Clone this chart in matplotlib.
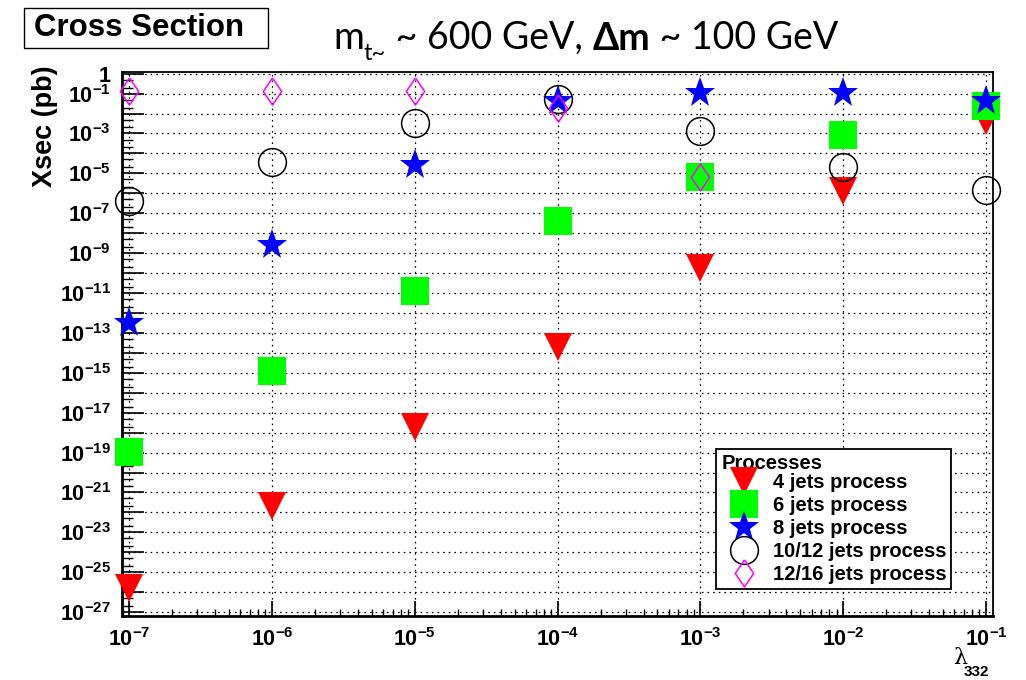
import matplotlib

matplotlib.use("Agg")
import matplotlib.pyplot as plt
from matplotlib.patches import Rectangle
from matplotlib.ticker import FixedLocator, FuncFormatter, LogLocator, NullFormatter
import numpy as np

# lambda_332 coupling values and cross sections (pb)
lam = [1e-7, 1e-6, 1e-5, 1e-4, 1e-3, 1e-2, 1e-1]
xsec_4j = [1.6e-26, 2e-22, 2e-18, 2e-14, 1.8e-10, 1.3e-6, 4e-3]
xsec_6j = [1.1e-19, 1.3e-15, 1.3e-11, 4e-8, 6.3e-6, 8e-4, 2.5e-2]
xsec_8j = [3.2e-13, 2.5e-9, 2.5e-5, 4.5e-2, 1.1e-1, 1.1e-1, 4.5e-2]
xsec_1012j = [4e-7, 3.7e-5, 3.5e-3, 5.6e-2, 1.4e-3, 2e-5, 1.4e-6]
lam_1216 = [1e-7, 1e-6, 1e-5, 1e-4, 1e-3]
xsec_1216j = [1.35e-1, 1.4e-1, 1.4e-1, 2e-2, 6.3e-6]

plt.rcParams["mathtext.fontset"] = "custom"
plt.rcParams["mathtext.rm"] = "Liberation Sans:bold"
plt.rcParams["mathtext.it"] = "Liberation Sans:bold"
plt.rcParams["mathtext.bf"] = "Liberation Sans:bold"
plt.rcParams["mathtext.sf"] = "Liberation Sans:bold"
plt.rcParams["font.family"] = ["Liberation Sans", "DejaVu Sans"]

fig = plt.figure(figsize=(10.26, 6.8), dpi=100)
ax = fig.add_axes([0.119, 0.094, 0.849, 0.800])

# ROOT style open diamond, narrower than it is tall
diamond = [(0, 1), (0.68, 0), (0, -1), (-0.68, 0), (0, 1)]

ax.plot(lam, xsec_4j, ls="none", marker="v", ms=20, color="#ff0000",
        mec="#ff0000", mew=0, label="4 jets process", zorder=3, clip_on=False)
ax.plot(lam, xsec_6j, ls="none", marker="s", ms=20, color="#00ff00",
        mec="#00ff00", mew=0, label="6 jets process", zorder=3, clip_on=False)
ax.plot(lam, xsec_8j, ls="none", marker="*", ms=23, color="#0000ff",
        mec="#0000ff", mew=0, label="8 jets process", zorder=3, clip_on=False)
ax.plot(lam, xsec_1012j, ls="none", marker="o", ms=20, mfc="none",
        mec="black", mew=1.1, label="10/12 jets process", zorder=3, clip_on=False)
ax.plot(lam_1216, xsec_1216j, ls="none", marker=diamond, ms=19.5, mfc="none",
        mec="#ff00ff", mew=1.1, label="12/16 jets process", zorder=3, clip_on=False)

ax.set_xscale("log")
ax.set_yscale("log")
ax.set_xlim(10 ** -7.05, 10 ** -0.95)
ax.set_ylim(10 ** -27.2, 10 ** 0.08)

ax.yaxis.set_major_locator(FixedLocator(10.0 ** np.arange(-27, 1)))
ax.yaxis.set_minor_locator(LogLocator(base=10, subs=(2.0, 5.0), numticks=100))
ax.yaxis.set_minor_formatter(NullFormatter())


def ylab(v, pos):
    e = int(round(np.log10(v)))
    if e == 0:
        return "$1$"
    if e % 2 == 0:
        return ""
    return "$10^{%d}$" % e


ax.yaxis.set_major_formatter(FuncFormatter(ylab))
ax.xaxis.set_major_locator(FixedLocator(10.0 ** np.arange(-7, 0)))
ax.xaxis.set_minor_locator(LogLocator(base=10, subs=np.arange(2, 10), numticks=100))
ax.xaxis.set_minor_formatter(NullFormatter())
ax.xaxis.set_major_formatter(FuncFormatter(lambda v, p: "$10^{%d}$" % int(round(np.log10(v)))))

ax.tick_params(axis="both", which="both", direction="in", top=False, right=False,
               labelsize=15.5, color="black")
ax.tick_params(axis="y", which="major", length=16, width=1.2, pad=8)
ax.tick_params(axis="y", which="minor", length=8, width=1.0)
ax.tick_params(axis="x", which="major", length=11, width=1.2, pad=9)
ax.tick_params(axis="x", which="minor", length=5, width=1.0)

ax.grid(True, which="major", color="black", linestyle=(0, (1.3, 3.2)), linewidth=0.9)

for side in ["left", "bottom"]:
    ax.spines[side].set_linewidth(2.0)
for side in ["top", "right"]:
    ax.spines[side].set_linewidth(1.3)

ax.set_ylabel("Xsec (pb)", fontsize=19.5, fontweight="bold", ha="right")
ax.yaxis.set_label_coords(-0.074, 1.013)

leg = ax.legend(loc="upper left", bbox_to_anchor=(0.682, 0.307), borderaxespad=0,
                title="Processes", alignment="left", fancybox=False,
                edgecolor="black", framealpha=1, handlelength=2.3,
                handletextpad=0.25, labelspacing=0.2, borderpad=0.25,
                prop={"family": "Liberation Sans", "weight": "bold", "size": 14.5},
                title_fontproperties={"family": "Liberation Sans", "weight": "bold", "size": 14.5})
leg.get_frame().set_linewidth(1.3)
leg._legend_box.sep = 0

# boxed label in the top-left corner
fig.patches.append(Rectangle((24 / 1026, 1 - 48 / 680), 244 / 1026, 40 / 680,
                             transform=fig.transFigure, fc="white", ec="black", lw=1.0))
fig.text(139 / 1026, 1 - 28 / 680, "Cross Section", ha="center", va="center",
         fontsize=22.5, fontweight="bold")

# title built from pieces: m_{t~} ~ 600 GeV, Δm ~ 100 GeV
tfam = ["Lato", "DejaVu Sans"]
tsize = 27
t_m = fig.text(333 / 1026, 1 - 56 / 680, "m", fontsize=tsize, family=tfam,
               ha="left", va="bottom")
t_sub = ax.annotate("t~", xy=(1, 0), xycoords=t_m, xytext=(0, -6),
                    textcoords="offset points", fontsize=17, family=tfam,
                    ha="left", va="bottom")
t_a = ax.annotate(" ~ 600 GeV, ", xy=(1, 0), xycoords=(t_sub, t_m),
                  fontsize=tsize, family=tfam, ha="left", va="bottom")
t_b = ax.annotate("\u0394m", xy=(1, 0), xycoords=t_a, fontsize=tsize,
                  family=tfam, fontweight="bold", ha="left", va="bottom")
t_c = ax.annotate(" ~ 100 GeV", xy=(1, 0), xycoords=t_b, fontsize=tsize,
                  family=tfam, ha="left", va="bottom")

# axis title lambda_332 at the bottom right
fig.text(960 / 1026, 1 - 658 / 680, "\u03bb", fontsize=16, family="DejaVu Serif",
         ha="center", va="center")
fig.text(976 / 1026, 1 - 672 / 680, "332", fontsize=11, fontweight="bold",
         ha="center", va="center")

fig.savefig("out.png", dpi=100)
plt.close(fig)
